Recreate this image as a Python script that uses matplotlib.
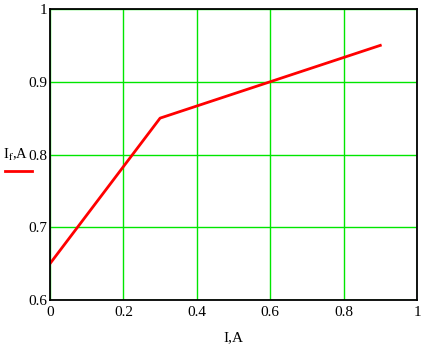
import matplotlib
matplotlib.use("Agg")
import matplotlib.pyplot as plt
from matplotlib.lines import Line2D

plt.rcParams['font.family'] = ['Liberation Serif', 'DejaVu Serif']
plt.rcParams['mathtext.fontset'] = 'stix'

# data
current = [0.0, 0.3, 0.9]     # I, A
field = [0.65, 0.85, 0.95]    # If, A
xticks = [0, 0.2, 0.4, 0.6, 0.8, 1]
yticks = [0.6, 0.7, 0.8, 0.9, 1]

fig = plt.figure(figsize=(4.3, 3.51), dpi=100)
ax = fig.add_axes([50/430, 1 - 300/351, 367/430, 291/351])

ax.plot(current, field, color='#ff0000', lw=2)
ax.set_xlim(0, 1)
ax.set_ylim(0.6, 1)
ax.set_xticks(xticks)
ax.set_yticks(yticks)
ax.set_xticklabels(['0', '0.2', '0.4', '0.6', '0.8', '1'])
ax.set_yticklabels(['0.6', '0.7', '0.8', '0.9', '1'])
ax.tick_params(length=0, labelsize=11)
ax.tick_params(axis='x', pad=4)
ax.tick_params(axis='y', pad=2)
ax.grid(True, color='#00e600', lw=1)
for s in ax.spines.values():
    s.set_linewidth(1.3)
    s.set_color('black')

ax.set_xlabel('I,A', fontsize=11, labelpad=9)

# y label with trace sample, mathcad style
fig.text(3/430, 1 - 155/351, r'I$_\mathrm{f}$,A', fontsize=10.5, va='center', ha='left')
fig.add_artist(Line2D([5/430, 32/430], [1 - 171/351, 1 - 171/351],
                      color='#ff0000', lw=2, transform=fig.transFigure))

fig.savefig('out.png', dpi=100)
